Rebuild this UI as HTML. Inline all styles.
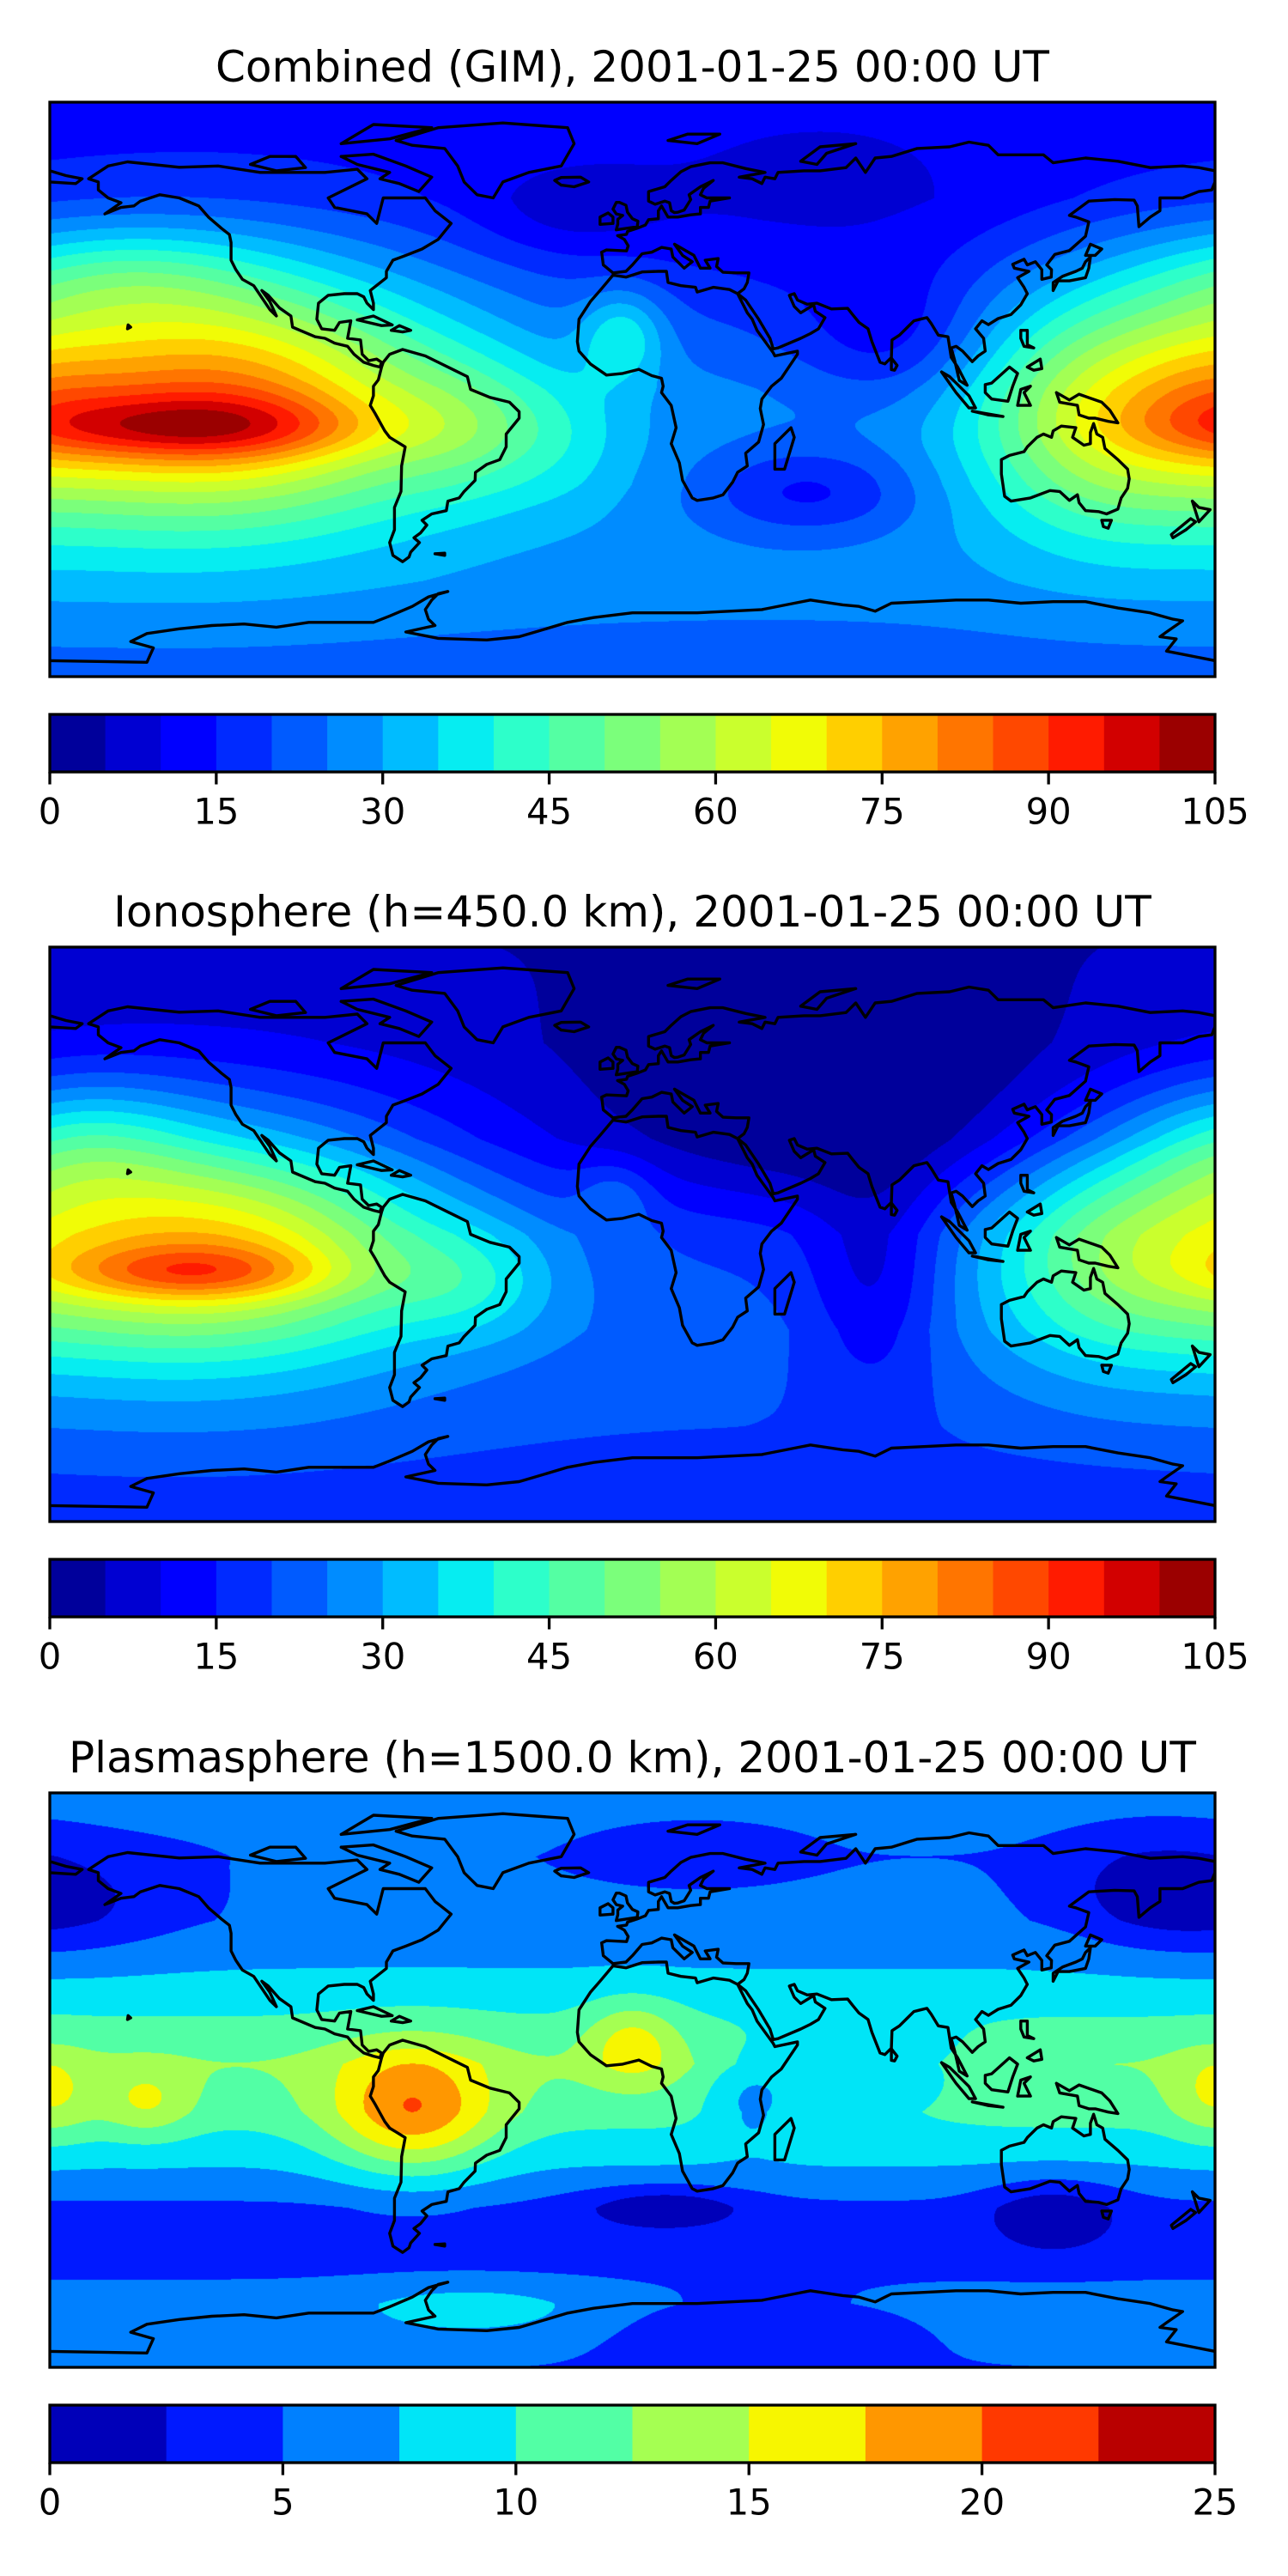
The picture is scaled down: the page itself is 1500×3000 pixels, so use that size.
<!DOCTYPE html>
<html>
<head>
<meta charset="utf-8">
<style>
  html, body { margin:0; padding:0; background:#ffffff; }
  body { width:1500px; height:3000px; position:relative; overflow:hidden;
         font-family:"DejaVu Sans","Liberation Sans",sans-serif; }
  canvas.map { position:absolute; left:58px; width:1357px; height:669px; }
  svg#overlay { position:absolute; left:0; top:0; }
</style>
</head>
<body>
<canvas class="map" id="map0" width="1357" height="669" style="top:119px"></canvas>
<canvas class="map" id="map1" width="1357" height="669" style="top:1103px"></canvas>
<canvas class="map" id="map2" width="1357" height="669" style="top:2088px"></canvas>
<svg id="overlay" width="1500" height="3000" xmlns="http://www.w3.org/2000/svg"></svg>
<script>
// ---------------- data: titles ----------------
const titles = [
  "Combined (GIM), 2001-01-25 00:00 UT",
  "Ionosphere  (h=450.0 km), 2001-01-25 00:00 UT",
  "Plasmasphere (h=1500.0 km), 2001-01-25 00:00 UT"
];
// ---------------- data: contour levels / ticks ----------------
const tecLevelCount = 21, tecMax = 105;
const plasLevelCount = 10, plasMax = 25;
const tecTicks = [0, 15, 30, 45, 60, 75, 90, 105];
const plasTicks = [0, 5, 10, 15, 20, 25];

// ---------------- data: Combined (GIM) field ----------------
const gimBaseLat = [90, 60, 30, 0, -30, -60, -90];
const gimBaseVal = [12, 13, 20, 26, 28, 27, 22];
const gimBlobLon = [-135, -135, -140, -120, 178, 150, 140, -50, -3, -20, 60, -20, 55, 80, -160];
const gimBlobLat = [-12, -8, 0, 8, -3, 0, -10, -12, 17, -15, 50, 55, -32, 15, 35];
const gimBlobAmp = [22, 28, 20, 12, 8, 10, 12, 10, 15, 5, -5, -6, -14, -10, 12];
const gimBlobSx  = [40, 55, 60, 40, 18, 30, 25, 18, 9, 15, 50, 20, 25, 20, 30];
const gimBlobSy  = [7, 22, 35, 25, 16, 30, 25, 15, 10, 15, 25, 10, 10, 15, 12];

// ---------------- data: Ionosphere field ----------------
const ionBaseLat = [90, 60, 30, 0, -30, -60, -90];
const ionBaseVal = [5, 6, 10, 20, 22, 20, 16];
const ionBlobLon = [-135, -135, -140, -120, 178, 150, 140, -50, -5, 60, 75, -170];
const ionBlobLat = [-12, -8, 0, 10, 2, 0, -10, -15, 12, 40, -15, 28];
const ionBlobAmp = [20, 25, 22, 8, 2, 10, 8, 10, 8, -12, -12, 15];
const ionBlobSx  = [30, 50, 60, 35, 22, 30, 25, 18, 8, 50, 15, 25];
const ionBlobSy  = [6, 20, 35, 20, 22, 25, 25, 12, 8, 25, 25, 15];

// ---------------- data: Plasmasphere field ----------------
const plasBaseLat = [90, 70, 50, 35, 20, 5, -10, -25, -40, -55, -70, -90];
const plasBaseVal = [6, 5, 5.5, 7.5, 10, 12.5, 11, 8, 4.5, 4, 6, 5];
const plasBlobLon = [-68, 0, -150, 180, 75, 37, 130, 10, -175, 160, 20, -50, 40, -80];
const plasBlobLat = [-10, 12, -7, -5, 5, -5, -42, -40, 55, 60, 72, -72, -78, 70];
const plasBlobAmp = [9, 5, 4, 4, -4, -4, -4, -4, -3, -3, -2, 3, -2.5, 2];
const plasBlobSx  = [18, 10, 10, 10, 20, 10, 15, 18, 25, 20, 20, 25, 30, 20];
const plasBlobSy  = [14, 9, 8, 10, 10, 10, 8, 5, 12, 12, 6, 6, 8, 10];

// ---------------- data: coastlines (lon, lat pairs) ----------------
const coastlines = [
 [-168,66,-162,70,-156,71.3,-140,69.6,-128,70,-115,68,-95,68,-85,69,-82,66,-94,60,-92,57,-82,55,-79,52,-77,60,-70,60,-64,60,-61,56,-56,52,-60,47,-65,44,-70,42,-74,40.5,-76,37,-76,35,-81,31,-80,27,-80,25,-82,27,-83,29,-85,30,-89,30,-94,29.5,-97,27,-97.5,22,-96,19,-92,18.5,-90.5,21,-87,21.5,-88,16,-84,15.5,-83.5,11,-81.5,9,-79,9.5,-77.5,8.5,-78,7,-80,7.5,-83,8.5,-86,11,-88,13.5,-92,14.5,-95,16,-98,16.5,-105,19.5,-105.5,23,-109,25.5,-112.5,29.5,-114.5,31,-112,27.5,-110,23,-112,25,-114,28,-117,32.5,-120.5,34.5,-122.5,37.5,-124,40.5,-124,46,-124.5,48.5,-127,50.5,-131,54,-134,57.5,-140,60,-146,61,-152,59,-154,57.5,-158,57,-163,55,-158,58.5,-162,60,-165,62.5,-165,65,-168,66],
 [-73,78,-60,82,-40,83.5,-20,82,-18,77,-22,70,-32,68,-40,65,-43,60,-48,61,-52,65,-54,70,-58,75.5,-68,76.5,-73,78],
 [-90,73,-80,73.7,-70,70,-62,66.5,-66,62,-72,64.5,-78,66,-75,68,-85,70.5,-90,73],
 [-118,70.5,-112,73,-104,73,-101,69.5,-110,68.5,-118,70.5],
 [-90,77,-80,83,-62,82,-75,78.5,-90,77],
 [-77,8.5,-75,11,-71,12.5,-64,10.5,-60,8.5,-55,6,-51,4,-50,0,-44,-2.5,-38,-4,-35,-7,-35,-9,-39,-14,-39,-18,-41,-22,-45,-23.5,-48.5,-26,-48.6,-28.5,-52,-32,-53.5,-34,-57,-35,-57.5,-38,-62,-39,-65,-41,-63.5,-42.5,-65.5,-45,-67.5,-46.5,-65.8,-48,-68.5,-51,-69,-52.5,-71,-54,-74,-52,-75,-48,-73.5,-44,-73.5,-37,-71.5,-32,-71.3,-24,-70.2,-18,-75,-15,-76.5,-13,-79.5,-7.5,-81,-5,-80,-2,-80,1,-78.5,3,-77.5,7,-77,8.5],
 [-6,35.8,-10,31,-13,27.5,-16.5,22,-17,15,-16.5,12,-13,8,-8,4.5,-3,5,2,6.3,6,4.3,9,3.5,9.5,1,9,-1,12,-5,13.5,-12,12,-17,14.5,-23,15.5,-28.5,18.5,-34,20,-34.8,25,-34,28,-33,31,-29,32.5,-26,35.5,-24,35,-20,39,-16.5,40.5,-11,39.5,-6,40,-3,43,1,46,3.5,51,11,51,12,44,10.5,43.5,11.5,41,15,38.5,18.5,37,22,35.5,24,32.5,30,30,31.3,25,32,20,30.5,19.5,32,15,32.5,11,33.5,10.5,37,8,37,3,36.8,-2,35.2,-6,35.8],
 [-9.5,43,-9,39,-6,36.5,-2,37,0,39,3,42.5,6,43,9,44.5,12,44,12.5,41.5,16,38,18.5,40,15.5,42,13,45.5,19,42,21,38,24,38,22.5,40.5,26.5,41,26,38.5,28,36.7,32,36.5,36,36.5,35.5,33.5,34.5,31.5,32.5,30,35,28,39,22,42.5,16,43.5,12.7,45,13,52,16,55,17.5,57.5,19,59.5,22.5,56.5,24.5,56,26.5,52,24,50,26,48.5,29.5,50,30,51,28,54,26.7,57,27,61.5,25.2,66.5,25.4,68,23.5,70,21,72.8,19,74,15,76.5,8.5,78,8,80,10,80.2,15.5,82.5,17,85,19.5,87,21.5,89,22,91,22.5,92.3,20.7,94.5,17,97.5,16.5,98.5,10,100.5,7,103.4,1.3,101,2.8,99.5,9.3,98.5,13,100,13.5,102,12,105,8.7,106.8,10.5,109,12,108.5,16,106,19,108,21.5,110,20.3,113,22.2,117,23.5,120,26.5,122,30,121,32,119,35,122.5,37,118,38,117.5,39.2,121,40.8,122,39,124.5,40,126.5,37.5,126.5,34.5,129.4,35.2,129.5,37.5,128,39,130.5,42.3,135,43.5,140,48,141,52.5,137,54,135,54.5,141,59,149,59.5,155,59.3,156,57.5,156.5,51,160,54,163,56,163,60,170,60,175,62,179,62.5,180,65,180,68.5,175,69.5,170,70,160,69.5,150,71.5,140,72.5,130,71,127,73.5,113,73.5,110,76.5,104,77.5,98,76,88,75.5,80,73,75,72.5,72,68,69,72.5,66,69.5,58,68.5,53,68.5,45,68,44,66,41,66.5,40,64.5,37,66,33,66.5,41,68,35,69.2,28,71,24,71,18,69.8,15,68.2,12,65.5,10,63.5,5,62,5,59,7,58,10,59,11.5,58.5,12,56,13,55.4,14,55.5,16,56.2,18,59.5,17.5,61,21,63.5,25,65.5,22,63,21,61,23,60,30,60,24,59,23.5,57,21,57,21,55,18,54.7,14,54,11,54,9,57.5,8,56,8,53.5,5,53.2,4,51.5,1.5,50.5,-1.5,49.5,-1.8,48.6,-4.6,48.2,-2.5,47,-1.3,45,-1.8,43.4,-8,43.7,-9.5,43],
 [-180,68.5,-175,67,-170,66,-172,64.5,-180,65],
 [114,-22,114,-26.5,115,-33.5,117,-35,123,-34,129,-31.7,132,-32,135,-34.8,137.5,-33,138,-35.5,140,-38,144,-38.3,146.5,-39,150,-37.5,151,-34,153,-31,153.5,-28,153,-25,150,-22,146,-18.5,145.3,-15,143.5,-14,142.5,-10.7,141.5,-13.5,141.5,-17,139.5,-17.5,136,-15,137,-12,132.5,-11.5,130,-13,129.5,-15,127,-14,125,-15,122,-18,121,-19.5,116.5,-20.7,114,-22],
 [145,-41,148,-41,147,-43.5,145.5,-43,145,-41],
 [173,-35,175,-37,178.5,-37.7,175,-41.5,173,-35],
 [172.5,-40.5,174,-41.5,171,-44,167,-46.5,166.5,-45.5,172.5,-40.5],
 [-180,-85,-150,-85.5,-148,-81,-155,-79,-150,-76.5,-140,-75,-130,-74,-120,-73.5,-110,-74.5,-100,-73,-90,-73,-80,-73,-75,-71,-68,-68,-63,-65,-57,-63.3,-60,-64,-62,-66,-64,-69,-63,-72,-61,-74,-70,-76,-60,-78,-45,-78.5,-35,-77.5,-30,-76,-20,-73,-12,-71.5,0,-70,10,-70,20,-70,30,-69.5,40,-69,50,-67,55,-66,65,-67.5,70,-68,75,-69.5,80,-67,90,-66.5,100,-66,110,-66,120,-67,130,-66.5,140,-66.5,150,-68.5,160,-70,167,-72,170,-72.5,165,-76,163,-77.5,168,-78.2,165,-82,180,-85],
 [-5,50,1.5,51,1.7,52.7,0,53.5,-1.5,55.5,-2,57.7,-4,58.6,-5,58.6,-6,56.5,-5,55,-3,54.5,-4.5,53.3,-4.5,51.8,-5,50],
 [-6,52,-6,54,-7.5,55.3,-10,54,-10,51.7,-6,52],
 [-22,64,-24,65.5,-22,66.4,-16,66.5,-13.5,65,-18,63.5,-22,64],
 [44,-25,47,-25,50,-15,49,-12,44,-17,44,-25],
 [130,31,131.5,34,135,34,140,35,141,38,141.5,41.5,140,40,139,38,137,37,133,35.5,130,33.5,130,31],
 [140,42,141.5,45.5,145,44,143,42,140,42],
 [95.5,5.5,98,4,104,-2,106,-5.8,104,-5.8,100,-1,95.5,5.5],
 [109,1.5,111,2,116.5,7,119,5,117.5,1,116,-3.7,111,-3,109,-1,109,1.5],
 [105,-6.8,114.5,-8.5,110,-8,105,-6.8],
 [131,-1,135,-3.3,138,-1.5,145,-4,147.5,-6.5,150,-10.5,147,-10,143,-9,141,-9,138,-8,137.5,-5,132,-4,131,-1],
 [120,18.5,122,18.5,122,14,124,13,121,13.5,120,16,120,18.5],
 [122,7,126,9.5,126.5,6.5,124,6,122,7],
 [119,-5,120,0,123,1,121,-1,123,-5,119,-5],
 [-85,21.8,-80,23,-74.2,20.2,-77.5,20,-85,21.8],
 [-74.5,18.5,-72,20,-68.5,18.5,-71,18,-74.5,18.5],
 [80,9.8,81.8,7.5,81,6,80,6.2,80,9.8],
 [11,78,17,80,27,80,20,77,11,78],
 [52,71.5,57,70.5,60,74,69,77,58,76,52,71.5],
 [-61,-51.5,-58,-51.3,-58,-52,-61,-51.5],
 [-156,19,-155,19.5,-155.8,20.2,-156,19]
];

// ---------------- layout ----------------
const MAP_X = 58, MAP_W = 1357, MAP_H = 669;
const panelTops = [119, 1103, 2088];
const CB_OFF = 713, CB_H = 67, LABEL_OFF = 826, TITLE_OFF = -41;

const panels = [
  {title: titles[0], n: tecLevelCount, vmax: tecMax, ticks: tecTicks,
   bl: gimBaseLat, bv: gimBaseVal, lon: gimBlobLon, lat: gimBlobLat, amp: gimBlobAmp, sx: gimBlobSx, sy: gimBlobSy, key: 'combined'},
  {title: titles[1], n: tecLevelCount, vmax: tecMax, ticks: tecTicks,
   bl: ionBaseLat, bv: ionBaseVal, lon: ionBlobLon, lat: ionBlobLat, amp: ionBlobAmp, sx: ionBlobSx, sy: ionBlobSy, key: 'ionosphere'},
  {title: titles[2], n: plasLevelCount, vmax: plasMax, ticks: plasTicks,
   bl: plasBaseLat, bv: plasBaseVal, lon: plasBlobLon, lat: plasBlobLat, amp: plasBlobAmp, sx: plasBlobSx, sy: plasBlobSy, key: 'plasmasphere'}
];

function seg(t, pts) {
  for (let i = 0; i < pts.length - 1; i++) {
    const [x0, y0] = pts[i], [x1, y1] = pts[i + 1];
    if (t >= x0 && t <= x1) return y0 + (y1 - y0) * (t - x0) / (x1 - x0);
  }
  return pts[pts.length - 1][1];
}
function jet(t) {
  const r = seg(t, [[0,0],[0.35,0],[0.66,1],[0.89,1],[1,0.5]]);
  const g = seg(t, [[0,0],[0.125,0],[0.375,1],[0.64,1],[0.91,0],[1,0]]);
  const b = seg(t, [[0,0.5],[0.11,1],[0.34,1],[0.65,0],[1,0]]);
  return [Math.round(r * 255), Math.round(g * 255), Math.round(b * 255)];
}
function baseAt(latv, bl, bv) {
  for (let i = 0; i < bl.length - 1; i++) {
    if (latv <= bl[i] && latv >= bl[i + 1]) {
      return bv[i] + (bv[i + 1] - bv[i]) * (bl[i] - latv) / (bl[i] - bl[i + 1]);
    }
  }
  return bv[bv.length - 1];
}
const xOfLon = lon => MAP_X + (lon + 180) / 360 * MAP_W;
const yOfLat = (lat, top) => top + (90 - lat) / 180 * MAP_H;

panels.forEach((p, pi) => {
  const cv = document.getElementById('map' + pi);
  const ctx = cv.getContext('2d');
  const img = ctx.createImageData(MAP_W, MAP_H);
  const nb = p.lon.length;
  const colors = [];
  for (let i = 0; i < p.n; i++) colors.push(jet((i + 0.5) / p.n));
  const colE = [];
  for (let b = 0; b < nb; b++) {
    const arr = new Float32Array(MAP_W);
    for (let x = 0; x < MAP_W; x++) {
      const lon = -180 + (x + 0.5) / MAP_W * 360;
      let d = ((lon - p.lon[b] + 540) % 360) - 180;
      arr[x] = Math.exp(-0.5 * (d / p.sx[b]) ** 2);
    }
    colE.push(arr);
  }
  const step = p.vmax / p.n;
  const rowE = new Float32Array(nb);
  for (let y = 0; y < MAP_H; y++) {
    const lat = 90 - (y + 0.5) / MAP_H * 180;
    const base = baseAt(lat, p.bl, p.bv);
    for (let b = 0; b < nb; b++) rowE[b] = p.amp[b] * Math.exp(-0.5 * ((lat - p.lat[b]) / p.sy[b]) ** 2);
    for (let x = 0; x < MAP_W; x++) {
      let v = base;
      for (let b = 0; b < nb; b++) v += rowE[b] * colE[b][x];
      let k = Math.floor(v / step);
      if (k < 0) k = 0; if (k > p.n - 1) k = p.n - 1;
      const c = colors[k], o = (y * MAP_W + x) * 4;
      img.data[o] = c[0]; img.data[o + 1] = c[1]; img.data[o + 2] = c[2]; img.data[o + 3] = 255;
    }
  }
  ctx.putImageData(img, 0, 0);
});

const NS = 'http://www.w3.org/2000/svg';
const svg = document.getElementById('overlay');
function mk(tag, attrs, parent) {
  const e = document.createElementNS(NS, tag);
  for (const k in attrs) e.setAttribute(k, attrs[k]);
  (parent || svg).appendChild(e);
  return e;
}
const defs = mk('defs', {});
panels.forEach((p, pi) => {
  const top = panelTops[pi];
  const g = mk('g', {});
  
  

  const t = mk('text', {x: 736.5, y: top + TITLE_OFF, 'text-anchor': 'middle', 'dominant-baseline': 'central',
    'font-size': 50, 'font-family': '"DejaVu Sans","Liberation Sans",sans-serif', fill: '#000'}, g);
  t.textContent = p.title;
  
  

  const cp = mk('clipPath', {id: 'clip' + pi}, defs);
  mk('rect', {x: MAP_X, y: top, width: MAP_W, height: MAP_H}, cp);
  const coast = mk('g', {'clip-path': 'url(#clip' + pi + ')', fill: 'none', stroke: '#000', 'stroke-width': 3.4, 'stroke-linejoin': 'round', 'stroke-linecap': 'round'}, g);
  
  
  coastlines.forEach(line => {
    let d = '';
    for (let i = 0; i < line.length; i += 2) {
      d += (i ? 'L' : 'M') + xOfLon(line[i]).toFixed(1) + ' ' + yOfLat(line[i + 1], top).toFixed(1);
    }
    const path = mk('path', {d: d}, coast);
    
    
  });
  const frame = mk('rect', {x: MAP_X, y: top, width: MAP_W, height: MAP_H, fill: 'none', stroke: '#000', 'stroke-width': 3.3}, g);
  
  

  const cbTop = top + CB_OFF;
  const cb = mk('g', {}, g);
  
  
  for (let i = 0; i < p.n; i++) {
    const c = jet((i + 0.5) / p.n);
    const x0 = MAP_X + i / p.n * MAP_W, x1 = MAP_X + (i + 1) / p.n * MAP_W;
    const r = mk('rect', {x: x0, y: cbTop, width: x1 - x0 + 0.6, height: CB_H, fill: 'rgb(' + c.join(',') + ')'}, cb);
    
    
  }
  const cbf = mk('rect', {x: MAP_X, y: cbTop, width: MAP_W, height: CB_H, fill: 'none', stroke: '#000', 'stroke-width': 3.3}, cb);
  
  
  p.ticks.forEach(v => {
    const x = MAP_X + v / p.vmax * MAP_W;
    const tk = mk('line', {x1: x, x2: x, y1: cbTop + CB_H, y2: cbTop + CB_H + 14.5, stroke: '#000', 'stroke-width': 3.3}, cb);
    
    
    const tl = mk('text', {x: x, y: top + LABEL_OFF, 'text-anchor': 'middle', 'dominant-baseline': 'central',
      'font-size': 41.7, 'font-family': '"DejaVu Sans","Liberation Sans",sans-serif', fill: '#000'}, cb);
    tl.textContent = String(v);
    
    
  });
});
</script>
</body>
</html>
